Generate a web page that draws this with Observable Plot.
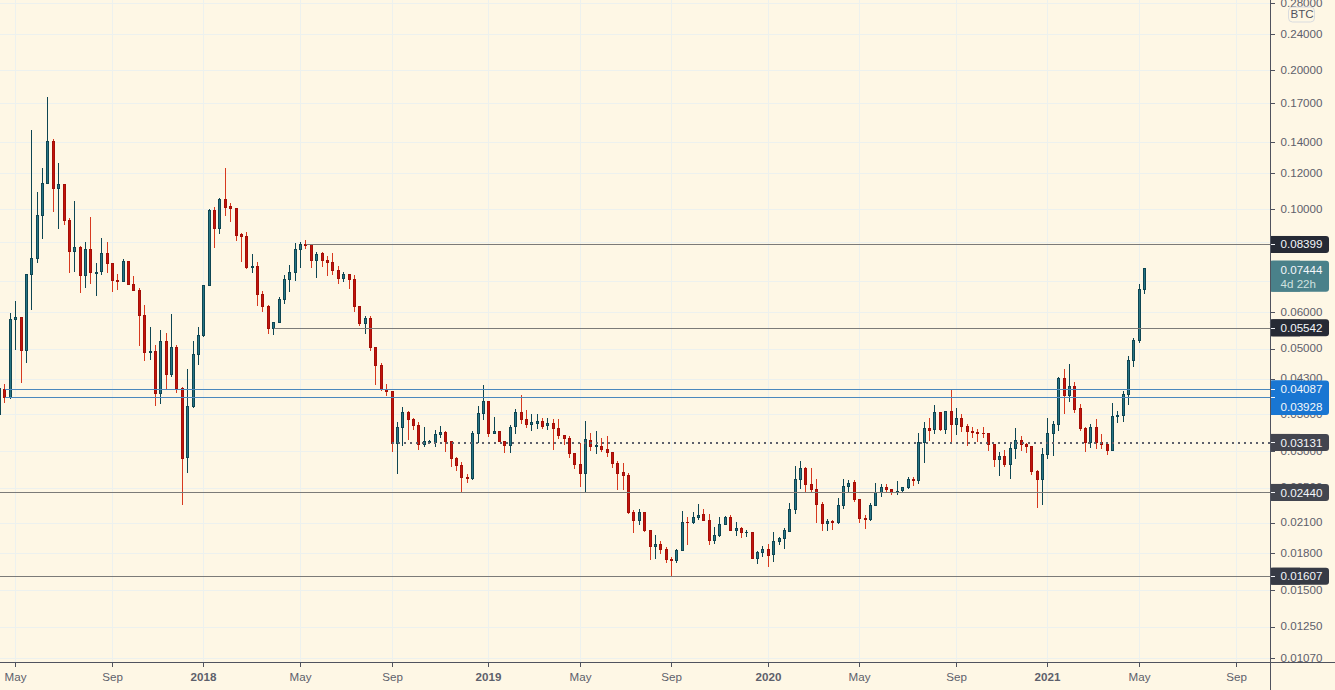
<!DOCTYPE html>
<html>
<head>
<meta charset="utf-8">
<script src="https://cdn.jsdelivr.net/npm/d3@7"></script>
<script src="https://cdn.jsdelivr.net/npm/@observablehq/plot@0.6"></script>
<style>
html,body{margin:0;padding:0;background:#fef7e5;overflow:hidden}
svg{display:block}
</style>
</head>
<body>
<div id="chart"></div>
<script>
// Weekly candles, first bar 2017-04-10, last bar 2021-05-10.  "u" = up week, "d" = down week.
const directions =
  "uduuduuuuu"+"duddududuu"+"ddduddddud"+"ududduuuuu"+"dudddddudd"+"duuuuuuddu"+"ddddudddud"+
  "dddduudddu"+"uuuddddduu"+"ududduuddu"+"ududdddddu"+"dudddddddu"+"dduddduudu"+"udduuududu"+
  "duuduuuuuu"+"dddduduuud"+"dduuudduuu"+"duudududud"+"dddddduduu"+"dddduuuudu"+"ddduddduuu"+"uuuu";
const highs = [
  .0409,.04191,.05957,.06337,.05845,.07242,.14842,.10908,.12283,.17502,
  .14193,.12584,.11343,.09573,.10416,.08327,.08488,.09636,.07656,.08665,
  .08488,.07639,.07253,.07815,.07723,.07181,.06752,.06215,.05569,.05091,
  .05485,.054,.05942,.05091,.04122,.04509,.05183,.0556,.06876,.10012,
  .10113,.10577,.12283,.10325,.10062,.08876,.08936,.08014,.07695,.0666,
  .06215,.05685,.06457,.07206,.07575,.08445,.08488,.0859,.08394,.08075,
  .08075,.07922,.08034,.07537,.07309,.07242,.07206,.06175,.05874,.05874,
  .05032,.04643,.04191,.04039,.03465,.03737,.03656,.03532,.0346,.03383,
  .03165,.03337,.03395,.03315,.03148,.02908,.02839,.02676,.03315,.03756,
  .0417,.03855,.03555,.03319,.03158,.03417,.037,.03968,.03681,.03609,
  .03609,.03532,.03538,.03514,.03521,.03246,.03234,.02968,.03118,.03478,
  .03283,.03315,.03202,.03234,.02983,.0285,.02827,.02685,.02232,.02243,
  .02214,.02027,.01971,.01914,.01857,.01769,.01838,.02225,.02156,.02209,
  .02304,.02247,.02189,.02055,.02156,.02167,.02178,.02107,.02052,.02021,
  .02,.01825,.01869,.01885,.02006,.01955,.02045,.0231,.02785,.02853,
  .02767,.02757,.0261,.02322,.02135,.02124,.02374,.0261,.02593,.02593,
  .0236,.02181,.02316,.02559,.02546,.02546,.02484,.02584,.02504,.02632,
  .02632,.03278,.03465,.03538,.03775,.03637,.03656,.04072,.03719,.03609,
  .03434,.03383,.0335,.03383,.03278,.03103,.02984,.03015,.03121,.03366,
  .0323,.03121,.03073,.02729,.03042,.03532,.03478,.04341,.04517,.04631,
  .04233,.03794,.03383,.03434,.03521,.03267,.03132,.03813,.03663,.04051,
  .0482,.05271,.069,.07468];
const bodyTops = [
  .0409,.04081,.05786,.05845,.05845,.07242,.07843,.09718,.11389,.14048,
  .14048,.11343,.11343,.09476,.08285,.08285,.08201,.08201,.0732,.08034,
  .08034,.07639,.07026,.07723,.07723,.0689,.06683,.05904,.0493,.0493,
  .05183,.05183,.05032,.05032,.04101,.03751,.04861,.05343,.06855,.09962,
  .09962,.10524,.10524,.10129,.10062,.0881,.08753,.07537,.07537,.06555,
  .06175,.05685,.06392,.07062,.07309,.08201,.0841,.0841,.08394,.08002,
  .08034,.07735,.07683,.0737,.07242,.07242,.07062,.06175,.05815,.05815,
  .05032,.04601,.04068,.04039,.03378,.03637,.03637,.03514,.03412,.03148,
  .03148,.03262,.03292,.03292,.03148,.02894,.02795,.02623,.03278,.03622,
  .03843,.03843,.03308,.03308,.03148,.03378,.03637,.03637,.03514,.0345,
  .03478,.03478,.03446,.03446,.03361,.03246,.03197,.02968,.02809,.03179,
  .03166,.03077,.03073,.03026,.02983,.0282,.02697,.02659,.02209,.02209,
  .02209,.02021,.01885,.01885,.01838,.01749,.01829,.02101,.02101,.02156,
  .02178,.02189,.02122,.01971,.02083,.02156,.02156,.02034,.02041,.02,
  .02,.01811,.01835,.01835,.01912,.01942,.02021,.02243,.02606,.02753,
  .02753,.02542,.0248,.023,.02114,.02114,.02289,.02517,.02555,.02568,
  .0236,.02145,.02289,.02443,.02504,.02504,.02475,.02454,.02504,.02606,
  .02606,.03132,.03361,.03361,.03637,.03637,.03656,.03656,.03532,.03532,
  .03395,.03308,.03292,.03278,.03278,.03103,.02923,.02923,.03042,.03165,
  .03165,.03103,.03073,.02711,.02953,.03278,.03429,.04313,.04313,.04143,
  .04143,.03699,.03361,.03378,.03378,.03132,.03103,.03568,.03586,.03982,
  .04721,.05211,.06719,.07444];
const bodyBottoms = [
  .0359,.03923,.03923,.05774,.04946,.04946,.07228,.07827,.097,.11365,
  .11094,.11094,.09456,.081,.081,.07192,.07192,.07295,.07283,.07332,
  .07627,.07012,.06969,.06975,.06876,.0667,.05892,.04895,.04895,.03989,
  .03989,.04391,.04391,.04093,.02888,.02903,.03743,.04851,.05333,.06842,
  .09088,.09088,.10093,.10027,.0878,.08722,.07484,.07484,.06542,.06162,
  .05521,.05521,.05685,.06392,.07048,.07295,.08201,.08352,.07747,.07747,
  .07747,.07668,.0737,.07083,.07083,.07048,.06162,.05656,.05656,.05022,
  .04592,.04081,.04028,.03121,.03121,.03378,.03507,.03405,.03103,.03103,
  .03132,.03132,.03256,.03142,.02888,.02789,.02627,.0261,.02613,.03272,
  .03615,.03272,.03272,.03142,.03082,.03082,.03388,.03507,.03422,.03422,
  .03439,.03388,.03405,.03354,.03239,.03191,.02958,.02803,.02677,.02677,
  .03066,.03066,.0302,.02977,.02814,.02677,.02653,.02204,.02119,.02119,
  .02017,.01864,.01864,.01835,.01745,.01737,.01737,.01825,.02096,.02099,
  .02152,.02119,.01918,.01918,.01967,.02079,.02017,.02017,.01997,.01994,
  .01754,.01754,.01806,.01781,.01793,.01909,.01938,.02006,.02239,.02606,
  .02537,.02474,.02296,.02089,.02089,.02096,.02096,.02285,.02512,.02355,
  .02141,.0213,.0213,.02289,.02438,.02471,.02434,.02434,.02468,.02499,
  .02589,.02589,.03132,.03319,.03334,.03334,.03337,.03422,.03422,.03388,
  .03304,.03285,.03272,.03267,.03103,.02879,.02879,.02809,.02809,.03036,
  .03097,.03066,.02705,.026,.026,.02947,.03278,.03429,.03948,.03954,
  .03688,.0335,.03126,.03126,.03126,.03097,.03005,.03005,.03568,.03579,
  .03974,.04699,.05191,.06705];
const lows = [
  .0359,.03816,.03895,.04964,.04209,.04658,.0606,.07668,.08647,.11365,
  .09888,.09088,.09274,.07295,.07332,.06602,.06773,.06903,.0651,.07228,
  .07295,.06636,.06705,.06975,.06876,.0667,.05065,.04699,.04723,.03756,
  .03794,.04081,.04347,.0401,.02296,.02691,.03724,.04608,.05306,.06842,
  .08268,.08857,.097,.09407,.08546,.07707,.07446,.07295,.06184,.06007,
  .05378,.05351,.05685,.06249,.06636,.07012,.07484,.08227,.07484,.0712,
  .07522,.07192,.07217,.06903,.06975,.06739,.06007,.05605,.0538,.04946,
  .0417,.04051,.03948,.02984,.02677,.03082,.0317,.03334,.0302,.03062,
  .03103,.03062,.03207,.02989,.02771,.02719,.02428,.02562,.026,.03118,
  .03507,.03218,.03272,.03142,.02972,.02972,.03272,.03429,.03361,.03319,
  .03354,.03354,.03337,.0302,.03191,.03097,.02894,.02739,.02512,.02428,
  .03006,.02958,.02989,.02917,.02761,.02474,.02474,.02195,.01996,.02076,
  .02006,.01745,.01754,.01799,.0172,.0161,.0172,.01825,.01882,.02086,
  .02129,.02119,.01879,.01888,.01958,.02079,.02017,.01967,.01945,.01955,
  .01754,.01709,.01772,.01684,.01725,.01882,.01844,.02006,.02192,.02483,
  .02447,.02434,.02096,.02014,.02014,.02025,.02086,.02247,.02447,.02329,
  .02096,.02034,.02119,.02278,.02386,.02447,.0241,.0241,.02434,.02483,
  .02521,.02546,.02827,.03156,.03272,.03308,.03272,.03126,.03256,.03304,
  .03082,.03207,.03136,.03207,.03005,.02775,.0265,.02771,.0261,.02884,
  .02999,.02972,.02663,.02262,.02293,.02884,.02928,.03315,.03609,.03831,
  .03627,.03315,.02984,.03047,.03031,.03031,.02942,.03005,.0345,.03465,
  .03775,.04562,.05137,.06565];

const priceTicks = [.28,.24,.2,.17,.14,.12,.1,.085,.07,.06,.05,.043,.036,.03,.025,.021,.018,.015,.0125,.0107];
const monthDates = ["2017-05-01","2017-09-04","2018-05-07","2018-09-03","2019-05-06","2019-09-02","2020-05-04","2020-09-07","2021-05-03","2021-09-06"];
const yearDates = ["2018-01-01","2019-01-07","2020-01-06","2021-01-04"];

const levelPrices = [.08399,.05542,.04087,.03928,.02440,.01607];
const levelStarts = ["2018-05-14","2018-04-02","2017-04-17","2017-04-17","2017-04-10","2017-04-10"];
const levelColors = ["#7c7b78","#7c7b78","#4b88bd","#4b88bd","#7c7b78","#7c7b78"];
const dottedPrice = .03131, dottedStart = "2018-09-03";
const lastPrice = .07444, countdown = "4d 22h";

const xDomain = [new Date("2017-04-10T13:40Z"), new Date("2022-01-12T20:30Z")];
const yDomain = [.010478,.28412];

// The reference draws its time positions on whole pixel columns, so dates are snapped to them.
const k = 1335/(xDomain[1]-xDomain[0]);
const column = d => Math.floor((d-xDomain[0])*k);
const atColumn = c => new Date(+xDomain[0]+(c+0.01)/k);
const snap = d => atColumn(column(new Date(d)));

const axisDate = snap("2021-10-20T12:00Z");
const monthTicks = monthDates.map(snap), yearTicks = yearDates.map(snap);

const weeks = d3.utcMonday.range(new Date("2017-04-10"), new Date("2021-05-11"));
const candles = weeks.map((date,i)=>({date,x:snap(date),x1:atColumn(column(date)-1),x2:atColumn(column(date)+1),
  high:highs[i],low:lows[i],top:bodyTops[i],bottom:bodyBottoms[i],up:directions[i]==="u"}));
const up = candles.filter(d=>d.up), down = candles.filter(d=>!d.up);

const bg="#fef7e5", grid="#edf1ee", axisC="#50535e", tickText="#5d606b";
const upWick="#0e4653", upFill="#277484", dnWick="#d7391f", dnFill="#c2140c", dnEdge="#a30f08";
const label="#f4f6fa";
const atAxis=()=>axisDate;
const crisp={shapeRendering:"crispEdges"};

const tag=(prices,fill,top=-8.5,bottom=-8.5)=>[
  Plot.rect(prices,{x1:atAxis,x2:atAxis,y1:d=>d[0],y2:d=>d[1],insetRight:-59,insetTop:top,insetBottom:bottom,fill,rx:3}),
  Plot.rect(prices,{x1:atAxis,x2:atAxis,y1:d=>d[0],y2:d=>d[1],insetRight:-30,insetTop:top,insetBottom:bottom,fill})
];
const tagText=(items,o={})=>Plot.text(items,{x:atAxis,y:d=>d.p,text:d=>d.t??d.p.toFixed(5),dx:10,textAnchor:"start",fontSize:11.6,fill:label,...o});
const tagTick=prices=>Plot.ruleY(prices,{x1:atAxis,x2:atAxis,insetRight:-5,stroke:label,...crisp});
const yearOf=d=>d3.utcFormat("%Y")(d3.utcDay.offset(d,2)), monthOf=d=>d3.utcFormat("%b")(d3.utcDay.offset(d,2));

const chart = Plot.plot({
  width:1335,height:690,marginLeft:0,marginRight:0,marginTop:0,marginBottom:28,
  style:{background:bg,fontFamily:"'Liberation Sans',Arial,sans-serif",fontSize:"11.6px",overflow:"hidden"},
  x:{type:"utc",domain:xDomain,range:[0,1335]},
  y:{type:"log",domain:yDomain,axis:null},
  color:{type:"identity"},
  marks:[
    // grid
    Plot.ruleX([...monthTicks,...yearTicks],{stroke:grid,...crisp}),
    Plot.ruleY(priceTicks,{x1:()=>xDomain[0],x2:atAxis,stroke:grid,...crisp}),
    // wicks
    Plot.ruleX(up,{x:"x",y1:"low",y2:"high",stroke:upWick,...crisp}),
    Plot.ruleX(down,{x:"x",y1:"low",y2:"high",stroke:dnWick,...crisp}),
    // bodies
    Plot.rect(up,{x1:"x1",x2:"x2",y1:"bottom",y2:"top",fill:upFill,stroke:upWick,...crisp}),
    Plot.rect(down,{x1:"x1",x2:"x2",y1:"bottom",y2:"top",fill:dnFill,stroke:dnEdge,...crisp}),
    // price levels
    Plot.ruleY(levelPrices.map((p,i)=>({p,s:new Date(levelStarts[i]),c:levelColors[i]})),{y:"p",x1:"s",x2:atAxis,stroke:"c",...crisp}),
    Plot.ruleY([{price:dottedPrice,start:new Date(dottedStart)}],{y:"price",x1:"start",x2:atAxis,stroke:"#5d606b",strokeWidth:2,strokeDasharray:"2,4",...crisp}),
    // price axis
    Plot.ruleY(priceTicks,{x1:atAxis,x2:atAxis,insetRight:-5,stroke:axisC,...crisp}),
    Plot.text(priceTicks,{x:atAxis,y:d=>d,text:d=>d.toFixed(5),dx:10,dy:-0.5,textAnchor:"start",fontSize:11.6,fill:tickText,clip:"frame"}),
    // time axis
    Plot.axisX({ticks:monthTicks,tickFormat:monthOf,anchor:"bottom",tickSize:5,tickPadding:5,color:tickText,stroke:axisC,fontSize:11.6,label:null}),
    Plot.axisX({ticks:yearTicks,tickFormat:yearOf,anchor:"bottom",tickSize:5,tickPadding:5,color:tickText,stroke:axisC,fontSize:11.6,fontWeight:"bold",label:null}),
    // price tags
    ...tag([[.08399,.08399]],"#262a35"),
    tagTick([.08399]),tagText([{p:.08399}],{dy:-0.5}),
    ...tag([[lastPrice,lastPrice]],"#4a818a",-8,-23),
    tagText([{p:lastPrice}],{dy:1}),
    tagText([{p:lastPrice,t:countdown}],{dy:15,fill:"#cfe0df"}),
    ...tag([[.05542,.05542]],"#262a35"),
    tagTick([.05542]),tagText([{p:.05542}]),
    ...tag([[.04087,.03928]],"#1976d2",-8.5,-18),
    tagTick([.04087,.03928]),tagText([{p:.04087}]),tagText([{p:.03928}],{dy:9.7}),
    ...tag([[.03131,.03131]],"#43454f"),
    tagTick([.03131]),tagText([{p:.03131}]),
    ...tag([[.0244,.0244]],"#43464f"),
    tagTick([.0244]),tagText([{p:.0244}]),
    ...tag([[.01607,.01607]],"#363a45"),
    tagTick([.01607]),tagText([{p:.01607}]),
    // frame lines
    Plot.ruleY([yDomain[0]],{stroke:axisC,...crisp}),
    Plot.ruleX([axisDate],{stroke:axisC,insetBottom:-28,...crisp}),
    // unit badge
    Plot.rect(["BTC"],{x1:atAxis,x2:atAxis,y1:()=>yDomain[1],y2:()=>yDomain[1],insetLeft:18.5,insetRight:-44.5,insetTop:7,insetBottom:-22,fill:bg,stroke:"#d9dcdf",rx:4}),
    Plot.text(["BTC"],{x:atAxis,y:()=>yDomain[1],text:d=>d,dx:31.5,dy:14,fontSize:11.6,fill:"#50535e"})
  ]
});
document.getElementById("chart").append(chart);
</script>
</body>
</html>
